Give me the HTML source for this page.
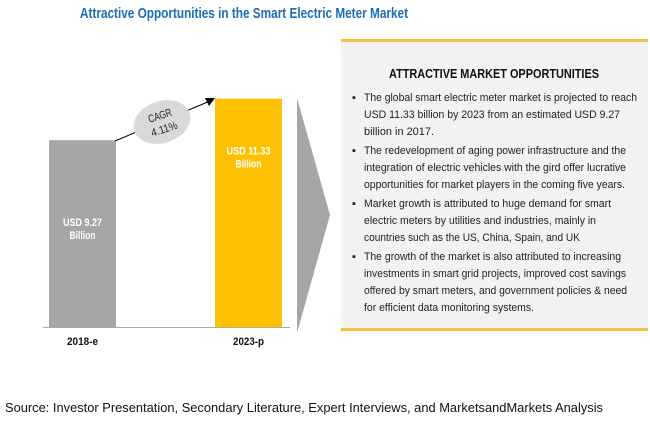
<!DOCTYPE html>
<html><head><meta charset="utf-8"><style>
body{margin:0;width:650px;height:425px;background:#fff;overflow:hidden;font-family:"Liberation Sans",sans-serif}
svg{display:block}
</style></head><body>
<svg width="650" height="425">
<text x="244" y="18" text-anchor="middle" font-size="15" font-weight="bold" fill="#1b6db5" textLength="328" lengthAdjust="spacingAndGlyphs">Attractive Opportunities in the Smart Electric Meter Market</text>
<g id="bars"></g>
<line x1="43" y1="327.5" x2="290" y2="327.5" stroke="#aaa" stroke-width="1"/>
<polygon points="297,98 330,215 297,333" fill="#a6a6a6"/>
<g>
<line x1="115" y1="141" x2="210" y2="101" stroke="#000" stroke-width="1"/>
<polygon points="215,98 205,98 209,106" fill="#000"/>
</g>
<g transform="translate(162,122) rotate(-18)">
<ellipse cx="0" cy="0" rx="29" ry="21" fill="#d9d9d9"/>
<text x="0" y="-3" text-anchor="middle" font-size="11" fill="#222" textLength="24" lengthAdjust="spacingAndGlyphs">CAGR</text>
<text x="0" y="11" text-anchor="middle" font-size="11" fill="#222" textLength="27" lengthAdjust="spacingAndGlyphs">4.11%</text>
</g>
<rect x="341" y="40" width="307" height="290" fill="#f2f2f2"/>
<rect x="341" y="39" width="307" height="3" fill="#f5c242"/>
<rect x="341" y="328" width="307" height="3" fill="#f5c242"/>
<text x="389" y="78" font-size="13" font-weight="bold" fill="#111" textLength="210" lengthAdjust="spacingAndGlyphs">ATTRACTIVE MARKET OPPORTUNITIES</text>
<g font-size="11" fill="#222" lengthAdjust="spacingAndGlyphs">
<text x="352" y="101">▪</text><text x="364" y="101" textLength="273" lengthAdjust="spacingAndGlyphs">The global smart electric meter market is projected to reach</text>
<text x="364" y="118" textLength="256" lengthAdjust="spacingAndGlyphs">USD  11.33 billion by 2023 from an estimated USD 9.27</text>
<text x="364" y="135" textLength="70" lengthAdjust="spacingAndGlyphs">billion in 2017.</text>
<text x="352" y="154">▪</text><text x="364" y="154" textLength="262" lengthAdjust="spacingAndGlyphs">The redevelopment of aging power infrastructure and the</text>
<text x="364" y="171" textLength="262" lengthAdjust="spacingAndGlyphs">integration of electric vehicles with the gird offer lucrative</text>
<text x="364" y="188" textLength="261" lengthAdjust="spacingAndGlyphs">opportunities for market players in the coming five years.</text>
<text x="352" y="207">▪</text><text x="364" y="207" textLength="247" lengthAdjust="spacingAndGlyphs">Market growth is attributed to huge demand for smart</text>
<text x="364" y="224" textLength="232" lengthAdjust="spacingAndGlyphs">electric meters by utilities and industries, mainly in</text>
<text x="364" y="241" textLength="216" lengthAdjust="spacingAndGlyphs">countries such as the US, China, Spain, and UK</text>
<text x="352" y="260">▪</text><text x="364" y="260" textLength="257" lengthAdjust="spacingAndGlyphs">The growth of the market is also attributed to increasing</text>
<text x="364" y="277" textLength="262" lengthAdjust="spacingAndGlyphs">investments in smart grid projects, improved cost savings</text>
<text x="364" y="294" textLength="263" lengthAdjust="spacingAndGlyphs">offered by smart meters, and government policies &amp; need</text>
<text x="364" y="311" textLength="170" lengthAdjust="spacingAndGlyphs">for efficient data monitoring systems.</text>
</g>
<text x="5" y="412" font-size="12.5" fill="#111" textLength="598" lengthAdjust="spacingAndGlyphs">Source: Investor Presentation, Secondary Literature, Expert Interviews, and MarketsandMarkets Analysis</text>
</svg>
<script>
const categories=["2018-e","2023-p"];
const values=[9.27,11.33];
const labels=["USD 9.27","USD 11.33"];
const colors=["#a6a6a6","#ffc000"];
const base=327, scale=20.15, xs=[49,215], w=67;
const y=v=>base-v*scale;
const g=document.getElementById('bars');
const NS="http://www.w3.org/2000/svg";
values.forEach((v,i)=>{
  const r=document.createElementNS(NS,'rect');
  r.setAttribute('x',xs[i]);r.setAttribute('y',y(v));r.setAttribute('width',w);r.setAttribute('height',base-y(v));r.setAttribute('fill',colors[i]);
  
  
  g.appendChild(r);
  const cx=xs[i]+w/2;
  const ty=i==0?y(v)+86:y(v)+56;
  [labels[i],"Billion"].forEach((s,j)=>{
    const t=document.createElementNS(NS,'text');
    t.setAttribute('x',cx);t.setAttribute('y',ty+j*13);t.setAttribute('text-anchor','middle');t.setAttribute('font-size','11');t.setAttribute('font-weight','bold');t.setAttribute('fill','#fff');
    t.setAttribute('textLength', j==0?(i==0?39:44):26);
    t.setAttribute('lengthAdjust','spacingAndGlyphs');
    t.textContent=s;
    
    
    g.appendChild(t);
  });
  const c=document.createElementNS(NS,'text');
  c.setAttribute('x',cx);c.setAttribute('y',345);c.setAttribute('text-anchor','middle');c.setAttribute('font-size','11');c.setAttribute('font-weight','bold');c.setAttribute('fill','#111');
  c.setAttribute('textLength','31');
  c.setAttribute('lengthAdjust','spacingAndGlyphs');
  c.textContent=categories[i];
  
  
  g.appendChild(c);
});
</script>
</body></html>
